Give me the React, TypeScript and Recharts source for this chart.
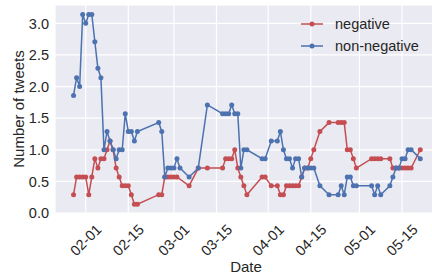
import React from "react";
import { LineChart, Line, XAxis, YAxis, CartesianGrid, Label } from "recharts";

// dates are 2020 (mm-dd)
const negDates = [
  "01-28", "01-29", "01-30", "01-31", "02-01", "02-02", "02-03", "02-04", "02-05", "02-06", "02-07",
  "02-08", "02-09", "02-10", "02-11", "02-12", "02-13", "02-14", "02-15", "02-16", "02-17", "02-18",
  "02-25", "02-26", "02-27", "02-28", "02-29", "03-01", "03-02", "03-06", "03-09", "03-12",
  "03-17", "03-18", "03-19", "03-20", "03-21", "03-22", "03-23", "03-24", "03-25", "03-30", "03-31",
  "04-02", "04-04", "04-05", "04-06", "04-07", "04-08", "04-09", "04-10", "04-11", "04-12", "04-13",
  "04-14", "04-15", "04-16", "04-18", "04-21", "04-24", "04-25", "04-26", "04-27", "04-28", "04-29",
  "04-30", "05-05", "05-06", "05-07", "05-08", "05-11", "05-12", "05-13", "05-14", "05-15", "05-16",
  "05-17", "05-18", "05-21",
];
const negValues = [
  0.29, 0.57, 0.57, 0.57, 0.57, 0.29, 0.57, 0.86, 0.71, 0.86, 0.86,
  1.0, 1.14, 1.0, 0.71, 0.57, 0.43, 0.43, 0.43, 0.29, 0.14, 0.14,
  0.29, 0.29, 0.57, 0.57, 0.57, 0.57, 0.57, 0.43, 0.71, 0.71,
  0.71, 0.86, 0.86, 0.86, 1.0, 0.71, 0.57, 0.43, 0.29, 0.57, 0.57,
  0.43, 0.43, 0.29, 0.29, 0.43, 0.43, 0.43, 0.43, 0.43, 0.57, 0.71,
  0.71, 0.86, 1.0, 1.29, 1.43, 1.43, 1.43, 1.43, 1.0, 1.0, 0.86,
  0.71, 0.86, 0.86, 0.86, 0.86, 0.86, 0.71, 0.71, 0.71, 0.71, 0.71,
  0.71, 0.71, 1.0,
];

const nonNegDates = [
  "01-28", "01-29", "01-30", "01-31", "02-01", "02-02", "02-03", "02-04", "02-05", "02-06", "02-07",
  "02-08", "02-09", "02-10", "02-11", "02-12", "02-13", "02-14", "02-15", "02-16", "02-17", "02-18",
  "02-25", "02-26", "02-27", "02-28", "02-29", "03-01", "03-02", "03-03", "03-06", "03-09", "03-12",
  "03-17", "03-18", "03-19", "03-20", "03-21", "03-22", "03-23", "03-24", "03-25", "03-30", "03-31",
  "04-02", "04-04", "04-05", "04-06", "04-07", "04-08", "04-09", "04-10", "04-11", "04-12", "04-13",
  "04-14", "04-15", "04-16", "04-18", "04-21", "04-24", "04-25", "04-26", "04-27", "04-28", "04-29",
  "04-30", "05-05", "05-06", "05-07", "05-08", "05-11", "05-12", "05-13", "05-14", "05-15", "05-16",
  "05-17", "05-18", "05-21",
];
const nonNegValues = [
  1.86, 2.14, 2.0, 3.14, 3.0, 3.14, 3.14, 2.71, 2.29, 2.14, 1.0,
  1.29, 1.14, 1.0, 0.86, 1.0, 1.0, 1.57, 1.29, 1.29, 1.14, 1.29,
  1.43, 1.29, 0.57, 0.71, 0.71, 0.71, 0.86, 0.71, 0.57, 0.71, 1.71,
  1.57, 1.57, 1.57, 1.71, 1.57, 1.57, 0.71, 1.0, 1.0, 0.86, 0.86,
  1.14, 1.14, 1.29, 1.0, 0.86, 0.86, 0.71, 0.86, 0.86, 0.57, 0.71,
  0.71, 0.71, 0.71, 0.43, 0.29, 0.29, 0.43, 0.29, 0.57, 0.57, 0.43,
  0.43, 0.43, 0.29, 0.43, 0.29, 0.43, 0.57, 0.71, 0.71, 0.86, 0.86,
  1.0, 1.0, 0.86,
];

const tickDates = ["02-01", "02-15", "03-01", "03-15", "04-01", "04-15", "05-01", "05-15"];
const yTicks = [0, 0.5, 1.0, 1.5, 2.0, 2.5, 3.0];

const RED = "#C44E52";
const BLUE = "#4C72B0";
const TEXT = "#262626";
const FONT = "'Liberation Sans', Arial, sans-serif";

// day number within 2020 (Jan 1 = 0)
function toDay(mmdd: string) {
  const [m, d] = mmdd.split("-").map(Number);
  return (Date.UTC(2020, m - 1, d) - Date.UTC(2020, 0, 1)) / 86400000;
}

const negData = negDates.map((d, i) => ({ day: toDay(d), value: negValues[i] }));
const nonNegData = nonNegDates.map((d, i) => ({ day: toDay(d), value: nonNegValues[i] }));
const xTicks = tickDates.map(toDay);

const DateTick = (props: any) => {
  const { x, y, payload } = props;
  const label = tickDates[xTicks.indexOf(payload.value)] ?? "";
  return (
    <text
      x={0}
      y={0}
      transform={`translate(${x},${y + 19}) rotate(-45)`}
      textAnchor="middle"
      dominantBaseline="central"
      fontSize={14.5}
      fontFamily={FONT}
      fill={TEXT}
    >
      {label}
    </text>
  );
};

const ValueTick = (props: any) => {
  const { x, y, payload } = props;
  return (
    <text x={x} y={y} dy="0.36em" textAnchor="end" fontSize={14.5} fontFamily={FONT} fill={TEXT}>
      {payload.value.toFixed(1)}
    </text>
  );
};

function LegendBox() {
  const items = [
    { name: "negative", color: RED },
    { name: "non-negative", color: BLUE },
  ];
  return (
    <svg width={130} height={50} style={{ position: "absolute", left: 298, top: 11 }}>
      {items.map((it, i) => (
        <g key={it.name} transform={`translate(0, ${13 + i * 22})`}>
          <line x1={3} x2={25} y1={0} y2={0} stroke={it.color} strokeWidth={1.5} />
          <circle cx={14} cy={0} r={2.5} fill={it.color} />
          <text x={37} y={0} dy="0.36em" fontSize={14.5} fontFamily={FONT} fill={TEXT}>
            {it.name}
          </text>
        </g>
      ))}
    </svg>
  );
}

export default function App() {
  return (
    <div
      style={{
        position: "absolute",
        left: 0,
        top: 0,
        width: 432,
        height: 279,
        overflow: "hidden",
        background: "#ffffff",
      }}
    >
      <LineChart width={445} height={279} margin={{ top: 5, right: 8, bottom: 0, left: 0 }}>
        <CartesianGrid fill="#EAEAF2" stroke="#ffffff" strokeWidth={1.2} />
        <XAxis
          type="number"
          dataKey="day"
          domain={[20.9, 146.5]}
          ticks={xTicks}
          height={66}
          axisLine={false}
          tickLine={false}
          tick={<DateTick />}
          interval={0}
          allowDataOverflow
        >
          <Label
            content={({ viewBox }: any) => (
              <text
                x={viewBox.x + viewBox.width / 2}
                y={viewBox.y + viewBox.height - 7}
                textAnchor="middle"
                fontSize={15}
                fontFamily={FONT}
                fill={TEXT}
              >
                Date
              </text>
            )}
          />
        </XAxis>
        <YAxis
          type="number"
          domain={[0, 3.29]}
          ticks={yTicks}
          width={55}
          axisLine={false}
          tickLine={false}
          tickSize={6}
          tickMargin={0}
          tick={<ValueTick />}
          interval={0}
          allowDataOverflow
        >
          <Label
            content={({ viewBox }: any) => {
              const cx = 18;
              const cy = viewBox.y + viewBox.height / 2;
              return (
                <text
                  x={cx}
                  y={cy}
                  transform={`rotate(-90, ${cx}, ${cy})`}
                  textAnchor="middle"
                  dominantBaseline="central"
                  fontSize={15}
                  fontFamily={FONT}
                  fill={TEXT}
                >
                  Number of tweets
                </text>
              );
            }}
          />
        </YAxis>
        <Line
          data={negData}
          dataKey="value"
          name="negative"
          stroke={RED}
          strokeWidth={1.5}
          dot={{ r: 2.5, fill: RED, stroke: "none" }}
          isAnimationActive={false}
        />
        <Line
          data={nonNegData}
          dataKey="value"
          name="non-negative"
          stroke={BLUE}
          strokeWidth={1.5}
          dot={{ r: 2.5, fill: BLUE, stroke: "none" }}
          isAnimationActive={false}
        />
      </LineChart>
      <LegendBox />
    </div>
  );
}
